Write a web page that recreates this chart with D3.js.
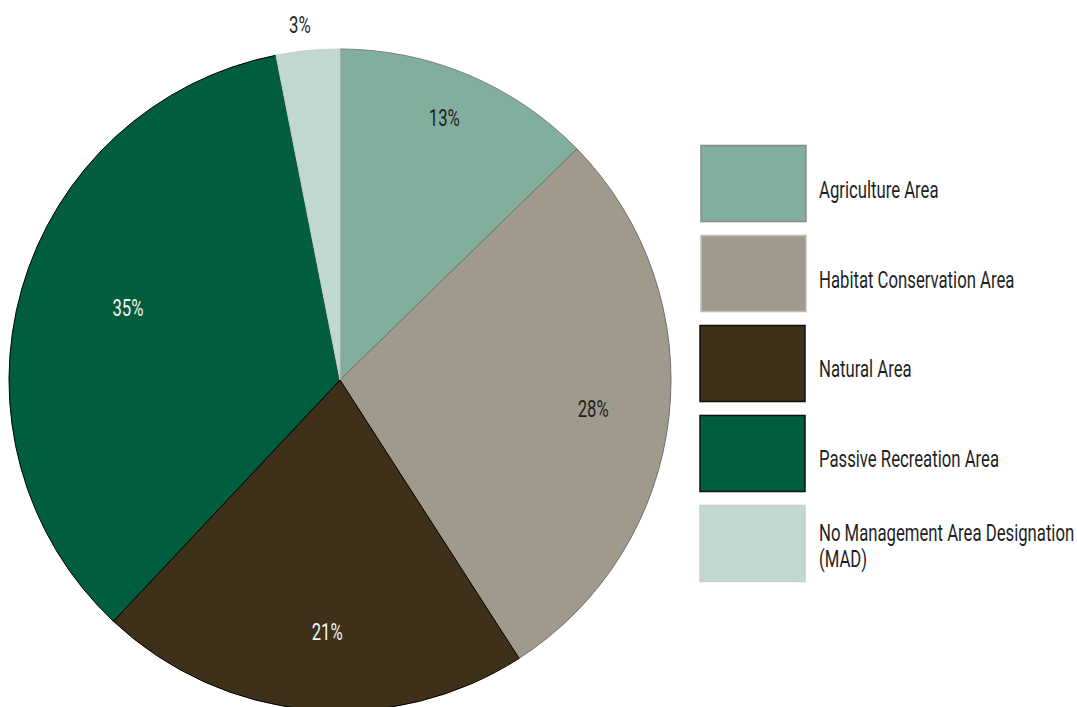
<!DOCTYPE html>
<html>
<head>
<meta charset="utf-8">
<script src="https://cdn.jsdelivr.net/npm/d3@7"></script>
<style>
  html, body { margin: 0; padding: 0; background: #fff; }
  svg { display: block; }
  text { font-family: "Roboto", "Liberation Sans", sans-serif; font-weight: 400; }
</style>
</head>
<body>
<svg id="chart" width="1077" height="707"></svg>
<script>
const categories = ["Agriculture Area", "Habitat Conservation Area", "Natural Area", "Passive Recreation Area", "No Management Area Designation (MAD)"];
const legendLines = [["Agriculture Area"], ["Habitat Conservation Area"], ["Natural Area"], ["Passive Recreation Area"], ["No Management Area Designation", "(MAD)"]];
const values = [12.7, 28.2, 21.1, 34.9, 3.1];
const pctLabels = ["13%", "28%", "21%", "35%", "3%"];
const fills = ["#82ae9e", "#a09a8c", "#3f3119", "#005e3e", "#c1d8d0"];
const strokes = ["#7f7f7f", "#6e6e6e", "#000000", "#000000", "#cccccc"];
const legendStrokes = ["#8a8a8a", "#bdbdbd", "#111111", "#111111", "#cccccc"];
const labelColors = ["#1f1f1f", "#1f1f1f", "#f2f2f2", "#f2f2f2", "#1f1f1f"];

const svg = d3.select("#chart");
const cx = 340, cy = 380, R = 331;
const FS = 23;

// condense factor: fit the reference widths of two legend entries
const probeA = svg.append("text").attr("font-size", FS).text("Agriculture Area");
const probeB = svg.append("text").attr("font-size", FS).text("No Management Area Designation");
const SX = (122 + 253) / (probeA.node().getComputedTextLength() + probeB.node().getComputedTextLength());
probeA.remove(); probeB.remove();

const pie = d3.pie().sort(null).value(d => d.v);
const data = categories.map((c, i) => ({ c, v: values[i], i }));
const arcs = pie(data);
const arc = d3.arc().innerRadius(0).outerRadius(R);

const g = svg.append("g").attr("transform", `translate(${cx},${cy})`);
g.selectAll("path").data(arcs).join("path")
  .attr("d", arc)
  .attr("fill", d => fills[d.data.i])
  .attr("stroke", d => strokes[d.data.i])
  .attr("stroke-width", 1);

// label radial placement (fraction of R) and small angular nudge (radians)
const labelR = [0.852, 0.77, 0.76, 0.677, 1.08];
const labelDA = [-0.02, 0, -0.04, 0.05, -0.015];
g.selectAll("text.pct").data(arcs).join("text")
  .attr("class", "pct")
  .attr("transform", d => {
    const a = (d.startAngle + d.endAngle) / 2 + labelDA[d.data.i];
    const r = R * labelR[d.data.i];
    return `translate(${r * Math.sin(a)},${-r * Math.cos(a)}) scale(${SX},1)`;
  })
  .attr("text-anchor", "middle")
  .attr("dy", "0.36em")
  .attr("font-size", FS)
  .attr("fill", d => labelColors[d.data.i])
  .text(d => pctLabels[d.data.i]);

// legend
const ly = d3.scaleBand().domain(categories).range([145, 581]).paddingInner(0.155).paddingOuter(0);
const leg = svg.append("g");
const items = leg.selectAll("g").data(categories).join("g")
  .attr("transform", d => `translate(0,${ly(d)})`);
items.append("rect")
  .attr("x", (d, i) => i < 2 ? 701 : 700).attr("y", 0.5)
  .attr("width", 105).attr("height", ly.bandwidth())
  .attr("fill", (d, i) => fills[i])
  .attr("stroke", (d, i) => legendStrokes[i])
  .attr("stroke-width", 1.5);
items.each(function(d, i) {
  const h = ly.bandwidth();
  const lines = legendLines[i];
  const t = d3.select(this).append("text")
    .attr("transform", `translate(819,0) scale(${SX},1)`)
    .attr("font-size", FS)
    .attr("fill", "#1f1f1f");
  const start = lines.length === 1 ? h / 2 + 14.5 : h / 2 - 2;
  lines.forEach((ln, k) => {
    t.append("tspan").attr("x", 0).attr("y", start + k * 26).text(ln);
  });
});
</script>
</body>
</html>
